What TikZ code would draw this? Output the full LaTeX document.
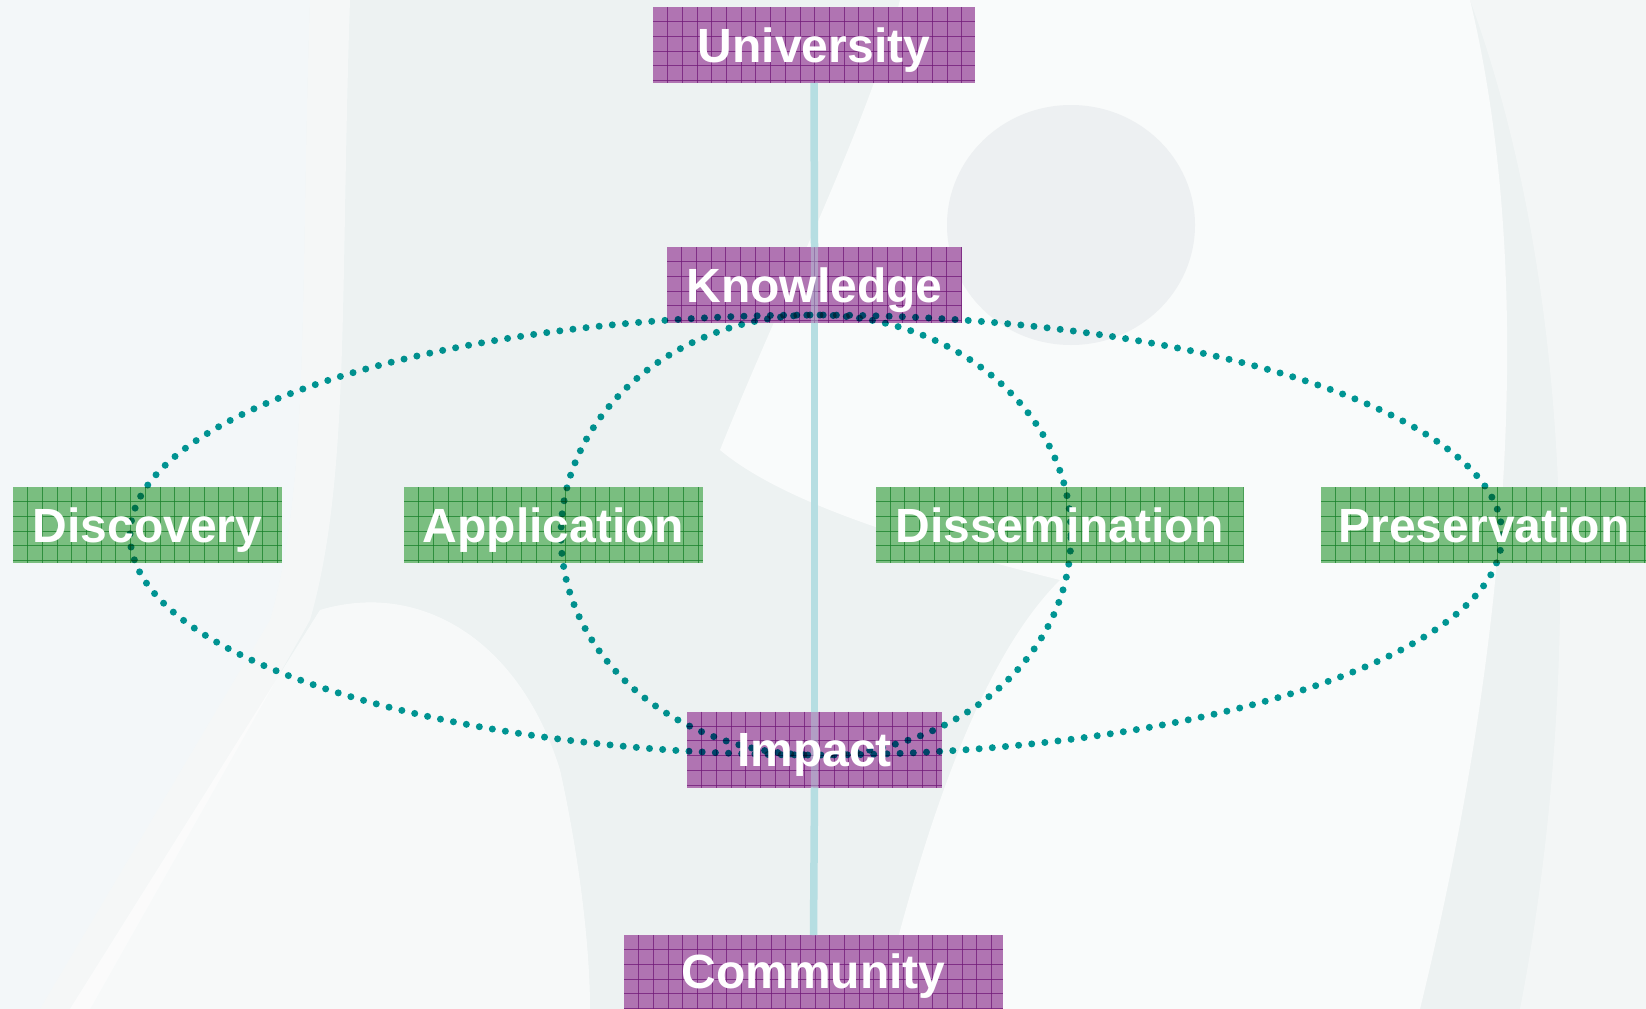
\documentclass[tikz,border=0pt]{standalone}
\usepackage{fontspec}
\setmainfont{Liberation Sans}
\definecolor{bgc}{RGB}{237,242,242}
\definecolor{bgl}{RGB}{243,247,249}
\definecolor{purp}{RGB}{176,116,178}
\definecolor{purpgrid}{RGB}{112,24,120}
\definecolor{grn}{RGB}{122,190,128}
\definecolor{grngrid}{RGB}{22,128,40}
\definecolor{tealdot}{RGB}{0,152,150}
\definecolor{axisc}{RGB}{182,222,226}
\definecolor{innerg}{RGB}{237,240,242}
\tikzset{
  boxbase/.style={rectangle, minimum height=76pt, inner sep=0pt, outer sep=0pt},
  gridlines/.style={path picture={
     \foreach \i in {1,...,26} {
       \draw[#1, line width=0.9pt, opacity=0.75]
         ([xshift=\i*14.7pt]path picture bounding box.north west) -- ([xshift=\i*14.7pt]path picture bounding box.south west);}
     \foreach \j in {1,...,5} {
       \draw[#1, line width=0.9pt, opacity=0.75]
         ([yshift=-\j*14.7pt]path picture bounding box.north west) -- ([yshift=-\j*14.7pt]path picture bounding box.north east);}
  }},
  pbox/.style={boxbase, fill=purp, gridlines=purpgrid},
  gbox/.style={boxbase, fill=grn, gridlines=grngrid},
  lbl/.style={text=white, font=\fontsize{48}{52}\selectfont\bfseries, text height=34.4pt, text depth=0pt, inner sep=0pt},
  axisline/.style={draw=axisc, line width=7.5pt},
  dotline/.style={draw=tealdot, line width=7pt, line cap=round, dash pattern=on 0pt off 13.2pt},
}
\begin{document}
\begin{tikzpicture}[x=1pt,y=-1pt]
% background
\fill[bgc] (0,0) rectangle (1646,1009);
\useasboundingbox (0,0) rectangle (1646,1009);
\fill[bgl] (0,0) -- (310,0) .. controls (300,300) and (310,480) .. (270,620) -- (40,1009) -- (0,1009) -- cycle;
\fill[white, opacity=0.45] (310,0) -- (350,0) .. controls (340,300) and (350,480) .. (310,620) -- (90,1009) -- (40,1009) -- (270,620) .. controls (310,480) and (300,300) .. (310,0) -- cycle;
\fill[white, opacity=0.6] (70,1009) -- (320,610) .. controls (420,580) and (520,640) .. (560,770) .. controls (580,860) and (590,950) .. (590,1009) -- cycle;
\fill[white, opacity=0.7] (900,0) -- (1470,0) .. controls (1530,250) and (1520,600) .. (1420,1009) -- (880,1009) .. controls (940,760) and (1000,640) .. (1060,580) .. controls (900,540) and (780,500) .. (720,450) .. controls (780,300) and (870,120) .. (900,0) -- cycle;
\fill[innerg] (1071,225) ellipse [x radius=124pt, y radius=120pt];
\fill[white, opacity=0.35] (1470,0) -- (1646,0) -- (1646,1009) -- (1520,1009) .. controls (1580,700) and (1580,300) .. (1470,0) -- cycle;
% boxes
\node[pbox, minimum width=322pt] (univ) at (814,45) {};
\node[pbox, minimum width=295pt] (know) at (814.5,285) {};
\node[gbox, minimum width=269pt] (disc) at (147.5,525) {};
\node[gbox, minimum width=299pt] (appl) at (553.5,525) {};
\node[gbox, minimum width=368pt] (diss) at (1059.5,525) {};
\node[gbox, minimum width=330pt] (pres) at (1486,525) {};
\node[pbox, minimum width=255pt] (imp) at (814.5,749.5) {};
\node[pbox, minimum width=379pt, minimum height=80pt] (comm) at (813.5,975) {};
% vertical axis
\draw[axisline] (univ.south) -- (know.north);
\draw[axisline] (know.south) -- (imp.north);
\draw[axisline] (imp.south) -- (comm.north);
\draw[axisline, opacity=0.4] (know.north) -- (know.south);
\draw[axisline, opacity=0.4] (imp.north) -- (imp.south);
% dotted ellipses
\coordinate (ec) at (816,535);
\begin{scope}[blend mode=multiply]
\draw[dotline] (ec) ellipse [x radius=686pt, y radius=220pt];
\draw[dotline] (ec) ellipse [x radius=255pt, y radius=220pt];
\end{scope}
% labels
\node[lbl] (univT) at (univ.center) {University};
\node[lbl] (knowT) at (know.center) {Knowledge};
\node[lbl] (discT) at (disc.center) {Discovery};
\node[lbl] (applT) at (appl.center) {Application};
\node[lbl] (dissT) at (diss.center) {Dissemination};
\node[lbl] (presT) at (1484,525) {Preservation};
\node[lbl] (impT) at (imp.center) {Impact};
\node[lbl] (commT) at (813.5,971) {Community};
\end{tikzpicture}
\end{document}
